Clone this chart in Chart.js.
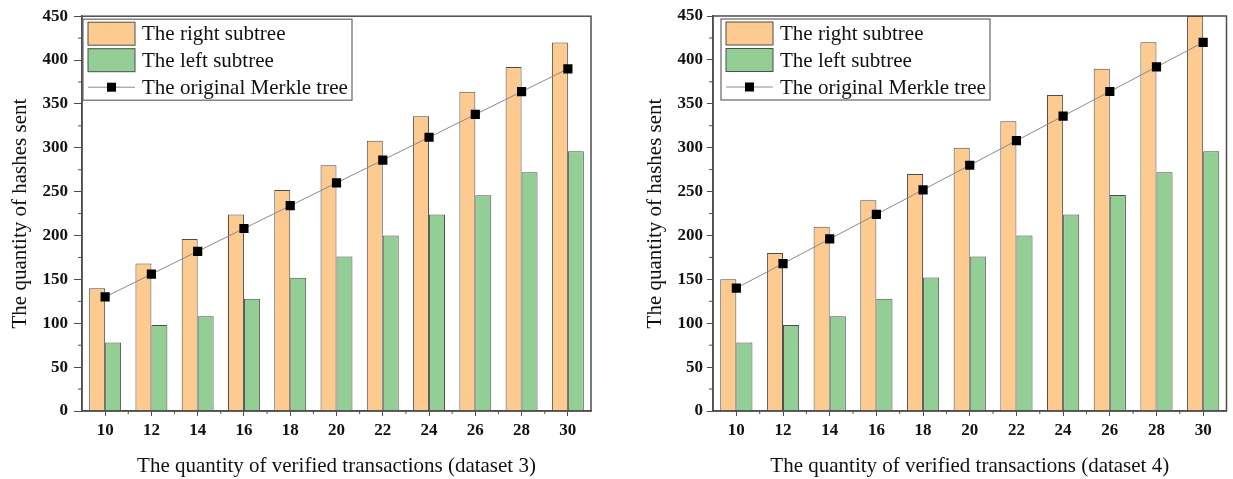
<!DOCTYPE html>
<html>
<head>
<meta charset="utf-8">
<script src="https://cdn.jsdelivr.net/npm/chart.js@4.4.0/dist/chart.umd.min.js"></script>
<style>
  html, body { margin: 0; padding: 0; background: #fff; }
  #wrap { position: relative; width: 1233px; height: 479px; }
  .panel { position: absolute; top: 0; height: 479px; }
</style>
</head>
<body>
<div id="wrap">
  <div class="panel" style="left:0;width:616px"><canvas id="chart3" width="616" height="479"></canvas></div>
  <div class="panel" style="left:616px;width:617px"><canvas id="chart4" width="617" height="479"></canvas></div>
</div>
<script>
// verified transactions on the x axis
const categories = ['10', '12', '14', '16', '18', '20', '22', '24', '26', '28', '30'];

// dataset 3 (left panel)
const rightSubtree3 = [140, 168, 196, 224, 252, 280, 308, 336, 364, 392, 420];
const leftSubtree3  = [78, 98, 108, 128, 152, 176, 200, 224, 246, 272, 296];
const merkle3       = [130, 156, 182, 208, 234, 260, 286, 312, 338, 364, 390];

// dataset 4 (right panel)
const rightSubtree4 = [150, 180, 210, 240, 270, 300, 330, 360, 390, 420, 450];
const leftSubtree4  = [78, 98, 108, 128, 152, 176, 200, 224, 246, 272, 296];
const merkle4       = [140, 168, 196, 224, 252, 280, 308, 336, 364, 392, 420];

const yTicks = [0, 50, 100, 150, 200, 250, 300, 350, 400, 450];
const yMinorTicks = [25, 75, 125, 175, 225, 275, 325, 375, 425];

const seriesNames = ['The right subtree', 'The left subtree', 'The original Merkle tree'];
const yTitle = 'The quantity of hashes sent';

const FONT = "'Liberation Serif', 'Times New Roman', serif";
const ORANGE = '#FDCA8F';
const GREEN = '#93CE95';
const EDGE = '#4d4d4d';

// frame, minor ticks and the boxed legend inside the plot
const decorPlugin = {
    id: 'decor',
    afterDraw(chart, args, opts) {
        const { ctx, chartArea } = chart;
        const xs = chart.scales.x, ys = chart.scales.y;
        ctx.save();

        // box round the plot
        ctx.strokeStyle = EDGE;
        ctx.lineWidth = 1.5;
        ctx.strokeRect(chartArea.left, chartArea.top, chartArea.right - chartArea.left, chartArea.bottom - chartArea.top);

        // minor ticks
        ctx.lineWidth = 1;
        ctx.beginPath();
        for (let i = 0; i < categories.length - 1; i++) {
            const px = (xs.getPixelForValue(i) + xs.getPixelForValue(i + 1)) / 2;
            ctx.moveTo(px, chartArea.bottom);
            ctx.lineTo(px, chartArea.bottom + 3);
        }
        yMinorTicks.forEach(v => {
            const py = ys.getPixelForValue(v);
            ctx.moveTo(chartArea.left, py);
            ctx.lineTo(chartArea.left - 4, py);
        });
        ctx.stroke();

        // legend
        const lx = chartArea.left + opts.dx, ly = chartArea.top + 3;
        const w = 269, h = 81;
        ctx.fillStyle = '#fff';
        ctx.fillRect(lx, ly, w, h);
        ctx.strokeStyle = '#666';
        ctx.lineWidth = 1.2;
        ctx.strokeRect(lx, ly, w, h);

        const sx = lx + 5, sw = 47, sh = 23;
        const rows = [ly + 14.5, ly + 41, ly + 68];
        const fills = [ORANGE, GREEN];
        for (let i = 0; i < 2; i++) {
            ctx.fillStyle = fills[i];
            ctx.fillRect(sx, rows[i] - sh / 2, sw, sh);
            ctx.strokeStyle = EDGE;
            ctx.lineWidth = 1;
            ctx.strokeRect(sx, rows[i] - sh / 2, sw, sh);
        }
        ctx.strokeStyle = '#8a8a8a';
        ctx.beginPath();
        ctx.moveTo(sx, rows[2]);
        ctx.lineTo(sx + sw, rows[2]);
        ctx.stroke();
        ctx.fillStyle = '#000';
        ctx.fillRect(sx + sw / 2 - 4.5, rows[2] - 4.5, 9, 9);

        ctx.fillStyle = '#111';
        ctx.font = '21px ' + FONT;
        ctx.textBaseline = 'middle';
        ctx.textAlign = 'left';
        seriesNames.forEach((name, i) => ctx.fillText(name, sx + sw + 7, rows[i] + 1));

        ctx.restore();
    }
};

function makeChart(id, orange, green, merkle, xTitle, g) {
    const ctx = document.getElementById(id).getContext('2d');
    return new Chart(ctx, {
        type: 'bar',
        data: {
            labels: categories,
            datasets: [
                {
                    label: seriesNames[0],
                    data: orange,
                    backgroundColor: ORANGE,
                    borderColor: EDGE,
                    borderWidth: 1,
                    categoryPercentage: 0.69,
                    barPercentage: 1.0,
                    order: 2
                },
                {
                    label: seriesNames[1],
                    data: green,
                    backgroundColor: GREEN,
                    borderColor: EDGE,
                    borderWidth: 1,
                    categoryPercentage: 0.69,
                    barPercentage: 1.0,
                    order: 2
                },
                {
                    type: 'line',
                    label: seriesNames[2],
                    data: merkle,
                    borderColor: '#8a8a8a',
                    borderWidth: 1,
                    pointStyle: 'rect',
                    pointRadius: 6.5,
                    pointBackgroundColor: '#000',
                    pointBorderColor: '#000',
                    pointBorderWidth: 0,
                    tension: 0,
                    order: 1
                }
            ]
        },
        options: {
            responsive: false,
            animation: false,
            events: [],
            layout: { padding: { left: 0, right: g.padRight, top: 16, bottom: 0 } },
            plugins: {
                legend: { display: false },
                tooltip: { enabled: false },
                decor: { dx: g.legendDx }
            },
            scales: {
                x: {
                    type: 'category',
                    offset: true,
                    grid: { offset: false, drawOnChartArea: false, tickLength: 5, color: EDGE },
                    border: { color: EDGE, width: 1.5 },
                    ticks: {
                        color: '#111',
                        padding: 4,
                        font: { family: FONT, size: 17, weight: 'bold' }
                    },
                    title: {
                        display: true,
                        text: xTitle,
                        color: '#111',
                        padding: { top: 0, bottom: 0 },
                        font: { family: FONT, size: 21 }
                    },
                    afterFit(scale) { scale.height = 479 - 411; }
                },
                y: {
                    min: 0,
                    max: 450,
                    afterBuildTicks(scale) { scale.ticks = yTicks.map(v => ({ value: v })); },
                    grid: { drawOnChartArea: false, tickLength: g.yTick, color: EDGE },
                    border: { color: EDGE, width: 1.5 },
                    ticks: {
                        color: '#111',
                        padding: g.yPad,
                        font: { family: FONT, size: 17, weight: 'bold' }
                    },
                    title: {
                        display: true,
                        text: yTitle,
                        color: '#111',
                        padding: { top: g.yTitlePad, bottom: 0 },
                        font: { family: FONT, size: 21 }
                    },
                    afterFit(scale) { scale.width = g.yWidth; }
                }
            }
        },
        plugins: [decorPlugin]
    });
}

makeChart('chart3', rightSubtree3, leftSubtree3, merkle3,
    'The quantity of verified transactions (dataset 3)',
    { yWidth: 82, padRight: 25, yTick: 8, yPad: 6, yTitlePad: 7.4, legendDx: 1 });

makeChart('chart4', rightSubtree4, leftSubtree4, merkle4,
    'The quantity of verified transactions (dataset 4)',
    { yWidth: 97, padRight: 5, yTick: 6, yPad: 4, yTitlePad: 26.4, legendDx: 8 });
</script>
</body>
</html>
